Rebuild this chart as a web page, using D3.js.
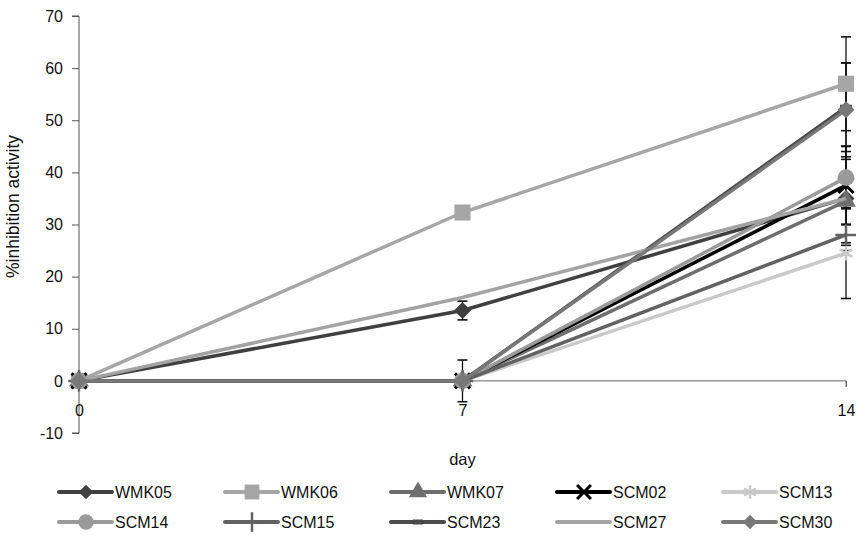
<!DOCTYPE html>
<html>
<head>
<meta charset="utf-8">
<script src="https://cdn.jsdelivr.net/npm/d3@7"></script>
<style>
  body { margin: 0; background: #fff; }
  text { font-family: "Liberation Sans", Arial, sans-serif; fill: #111; }
</style>
</head>
<body>
<div id="chart"></div>
<script>
const days = [0, 7, 14];
const seriesNames = ["WMK05", "WMK06", "WMK07", "SCM02", "SCM13", "SCM14", "SCM15", "SCM23", "SCM27", "SCM30"];
const WMK05 = [0, 13.5, 35];
const WMK06 = [0, 32.3, 57];
const WMK07 = [0, 0, 34.5];
const SCM02 = [0, 0, 37.5];
const SCM13 = [0, 0, 24.5];
const SCM14 = [0, 0, 39];
const SCM15 = [0, 0, 28];
const SCM23 = [0, 0, 52.5];
const SCM27 = [0, 16, 35];
const SCM30 = [0, 0, 52];
// error bar half-widths per day
const errWMK05 = [0, 1.8, 10];
const errWMK06 = [0, 0, 9];
const errWMK07 = [0, 4, 8];
const errSCM02 = [0, 0, 7.5];
const errSCM13 = [0, 0, 8.7];
const errSCM14 = [0, 0, 6];
const errSCM15 = [0, 0, 2];
const errSCM23 = [0, 0, 8.5];
const errSCM27 = [0, 0, 5];
const errSCM30 = [0, 0, 9];
const yTicks = [-10, 0, 10, 20, 30, 40, 50, 60, 70];
const xTicks = [0, 7, 14];

const values = [WMK05, WMK06, WMK07, SCM02, SCM13, SCM14, SCM15, SCM23, SCM27, SCM30];
const errors = [errWMK05, errWMK06, errWMK07, errSCM02, errSCM13, errSCM14, errSCM15, errSCM23, errSCM27, errSCM30];
const colors = ["#404040", "#a6a6a6", "#6e6e6e", "#000000", "#c9c9c9", "#9a9a9a", "#626262", "#4a4a4a", "#a3a3a3", "#787878"];
const markers = ["diamond", "square", "triangle", "times", "asterisk", "circle", "plus", "dash", "none", "diamond"];

const width = 856, height = 536;
const fontSize = 16;
const svg = d3.select("#chart").append("svg")
  .attr("width", width).attr("height", height);

const x = d3.scaleLinear().domain([0, 14]).range([79, 846]);
const y = d3.scaleLinear().domain([-10, 70]).range([433, 16]);

// Y axis
const yAxis = svg.append("g")
  .attr("transform", `translate(${x(0)},0)`)
  .call(d3.axisLeft(y).tickValues(yTicks).tickFormat(d => String(d)).tickSize(7).tickPadding(9));
yAxis.select(".domain").attr("stroke", "#555").attr("d", `M-7,${y(70)}H0V${y(-10)}H-7`);
yAxis.selectAll(".tick line").attr("stroke", "#555");
yAxis.selectAll("text").attr("font-size", fontSize).style("font-family", "Liberation Sans, Arial, sans-serif");

// X axis at y=0
const xAxis = svg.append("g")
  .attr("transform", `translate(0,${y(0)})`)
  .call(d3.axisBottom(x).tickValues(xTicks).tickSize(6).tickPadding(18));
xAxis.select(".domain").attr("stroke", "#666").attr("d", `M${x(0)},0H${x(14)}V6`);
xAxis.selectAll(".tick line").attr("stroke", "#666");
xAxis.selectAll("text").attr("font-size", fontSize).style("font-family", "Liberation Sans, Arial, sans-serif");

svg.append("text")
  .attr("transform", `translate(19,${(y(70) + y(-10)) / 2 - 18}) rotate(-90)`)
  .attr("text-anchor", "middle").attr("font-size", 17.5)
  .text("%inhibition activity");
svg.append("text")
  .attr("x", x(7)).attr("y", 465)
  .attr("text-anchor", "middle").attr("font-size", 16.5)
  .text("day");

function drawMarker(g, type, color, cx, cy, scale) {
  const s = scale || 1;
  if (type === "none") return;
  if (type === "dash") {
    g.append("line").attr("x1", cx - 6 * s).attr("x2", cx + 6 * s)
      .attr("y1", cy).attr("y2", cy).attr("stroke", color).attr("stroke-width", 5);
    return;
  }
  if (type === "diamond") {
    const r = 8.5 * s;
    g.append("path")
      .attr("d", `M${cx},${cy - r}L${cx + r},${cy}L${cx},${cy + r}L${cx - r},${cy}Z`)
      .attr("fill", color);
    return;
  }
  const stroked = { times: d3.symbolTimes, asterisk: d3.symbolAsterisk, plus: d3.symbolPlus };
  const filled = { square: d3.symbolSquare, triangle: d3.symbolTriangle, circle: d3.symbolCircle };
  if (stroked[type]) {
    g.append("path")
      .attr("d", d3.symbol().type(stroked[type]).size(150 * s)())
      .attr("transform", `translate(${cx},${cy})`)
      .attr("fill", "none").attr("stroke", color)
      .attr("stroke-width", type === "times" ? 3 : 2.5);
  } else {
    const size = { square: 260, triangle: 170, circle: 220 }[type];
    g.append("path")
      .attr("d", d3.symbol().type(filled[type]).size(size * s)())
      .attr("transform", `translate(${cx},${cy})`)
      .attr("fill", color);
  }
}

const line = d3.line().x((d, i) => x(days[i])).y(d => y(d));

// error bars
const errG = svg.append("g");
values.forEach((vals, si) => {
  vals.forEach((v, i) => {
    const e = errors[si][i];
    if (!e) return;
    const cx = x(days[i]);
    errG.append("line").attr("x1", cx).attr("x2", cx)
      .attr("y1", y(v - e)).attr("y2", y(v + e)).attr("stroke", "#111").attr("stroke-width", 1.3);
    [v - e, v + e].forEach(t => errG.append("line")
      .attr("x1", cx - 5).attr("x2", cx + 5).attr("y1", y(t)).attr("y2", y(t))
      .attr("stroke", "#111").attr("stroke-width", 1.6));
  });
});

// series
values.forEach((vals, si) => {
  const g = svg.append("g");
  g.append("path").datum(vals)
    .attr("d", line).attr("fill", "none")
    .attr("stroke", colors[si]).attr("stroke-width", 3.5);
  vals.forEach((v, i) => drawMarker(g, markers[si], colors[si], x(days[i]), y(v)));
});

// legend
const legend = svg.append("g");
seriesNames.forEach((name, i) => {
  const col = i % 5, row = Math.floor(i / 5);
  const tx = 116 + col * 166, ty = 492 + row * 30;
  const g = legend.append("g");
  g.append("line").attr("x1", tx - 57).attr("x2", tx - 4).attr("y1", ty).attr("y2", ty)
    .attr("stroke", colors[i]).attr("stroke-width", 4).attr("stroke-linecap", "round");
  drawMarker(g, markers[i], colors[i], tx - 30, ty, 0.85);
  g.append("text").attr("x", tx - 1).attr("y", ty + 6).attr("font-size", fontSize).text(name);
});
</script>
</body>
</html>
